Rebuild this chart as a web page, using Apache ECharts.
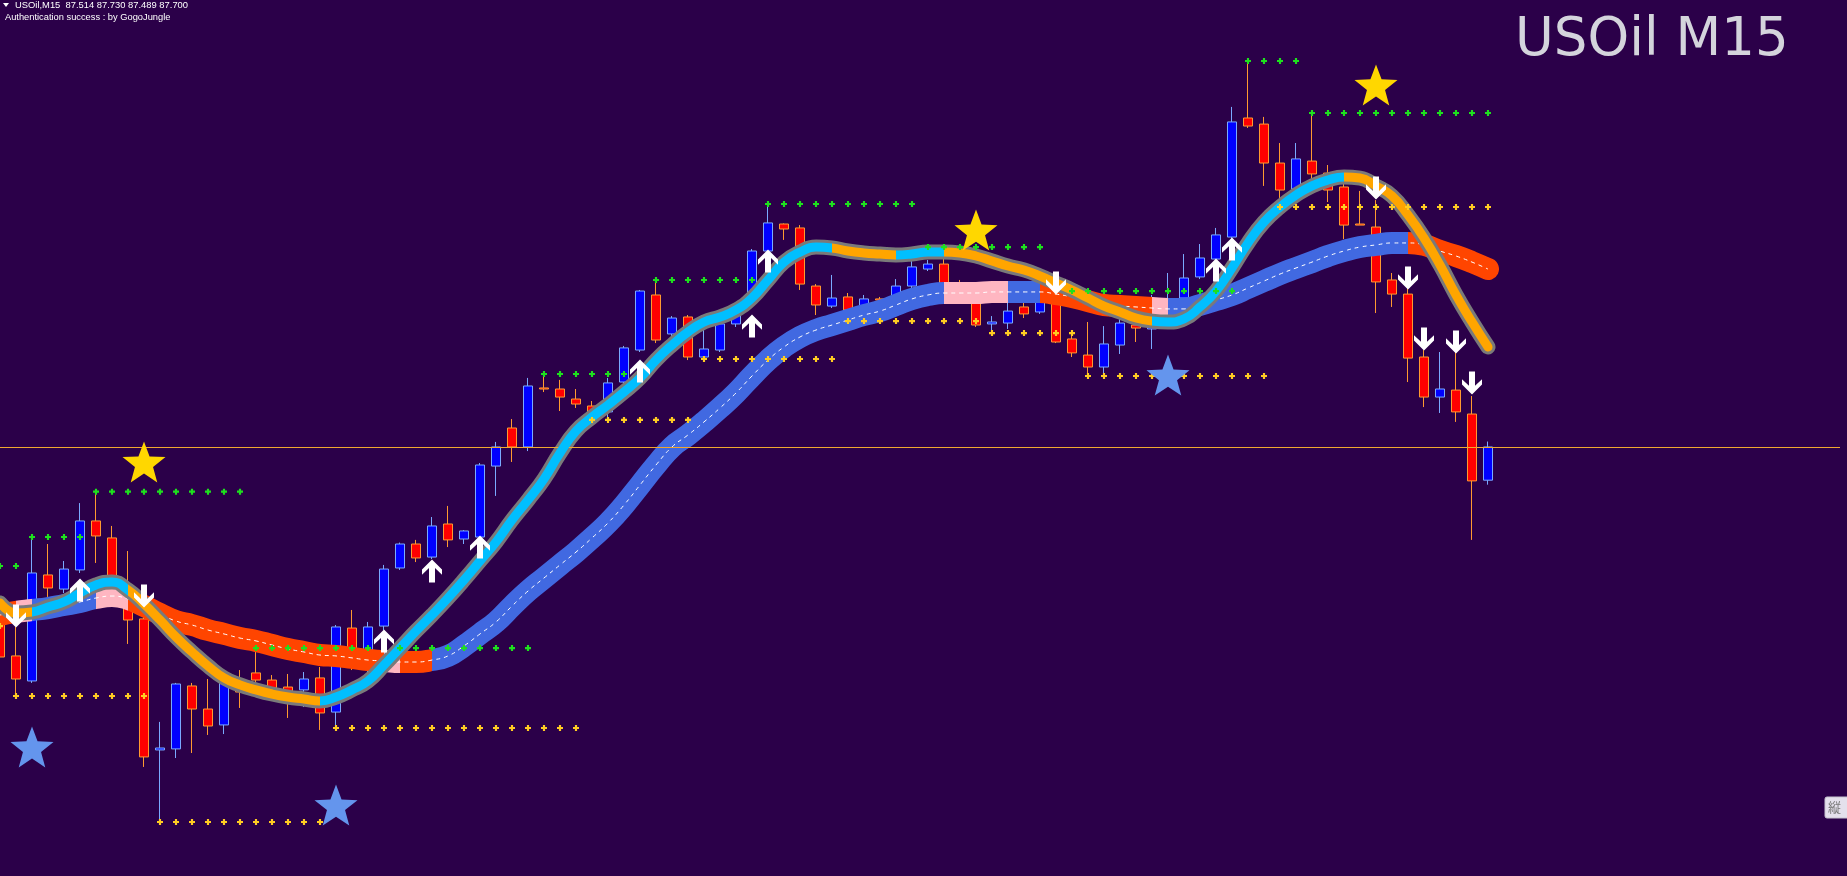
<!DOCTYPE html>
<html>
<head>
<meta charset="utf-8">
<script src="https://cdn.jsdelivr.net/npm/echarts@6/dist/echarts.min.js"></script>
<style>
html,body{margin:0;padding:0;background:#2b0049;overflow:hidden;}
#chart{width:1847px;height:876px;}
</style>
</head>
<body>
<div id="chart"></div>
<script>
// ---- data (prices) ----
const symbolName = 'USOil';
const timeframe = 'M15';
const authText = 'Authentication success : by GogoJungle';

// candles: [open, close, low, high]
const ohlc = [
[86.760,86.525,86.424,86.816],[86.531,86.402,86.301,86.693],[86.391,86.995,86.380,87.196],[86.984,86.911,86.861,87.157],
[86.905,87.017,86.883,87.062],[87.012,87.286,86.995,87.386],[87.286,87.202,87.051,87.450],[87.191,86.973,86.900,87.258],
[86.844,86.732,86.598,87.118],[86.738,85.966,85.910,86.805],[86.005,86.016,85.602,86.162],[86.011,86.374,85.960,86.380],
[86.363,86.234,85.988,86.380],[86.234,86.139,86.089,86.402],[86.145,86.408,86.094,86.441],[86.385,86.329,86.240,86.452],
[86.436,86.396,86.369,86.573],[86.396,86.341,86.285,86.424],[86.357,86.285,86.184,86.430],[86.341,86.402,86.245,86.441],
[86.408,86.212,86.117,86.469],[86.217,86.693,86.128,86.704],[86.687,86.564,86.452,86.788],[86.564,86.693,86.413,86.721],
[86.698,87.017,86.676,87.040],[87.023,87.157,87.012,87.165],[87.157,87.079,87.056,87.180],[87.084,87.258,87.073,87.308],
[87.269,87.180,87.140,87.370],[87.185,87.230,87.157,87.235],[87.196,87.599,87.191,87.610],[87.593,87.700,87.426,87.728],
[87.806,87.700,87.616,87.856],[87.700,88.041,87.677,88.086],[88.030,88.024,88.007,88.105],[88.024,87.979,87.901,88.075],
[87.968,87.940,87.918,88.024],[87.929,87.890,87.851,87.957],[87.896,88.058,87.851,88.086],[88.063,88.254,88.052,88.265],
[88.242,88.572,88.231,88.578],[88.550,88.298,88.281,88.634],[88.332,88.421,88.321,88.432],[88.427,88.203,88.186,88.438],
[88.203,88.248,88.186,88.360],[88.242,88.388,88.231,88.421],[88.388,88.444,88.371,88.505],[88.522,88.796,88.494,88.807],
[88.796,88.953,88.785,89.059],[88.947,88.919,88.858,88.950],[88.925,88.611,88.578,88.941],[88.600,88.494,88.438,88.611],
[88.488,88.533,88.477,88.662],[88.539,88.466,88.432,88.561],[88.460,88.528,88.449,88.550],[88.528,88.522,88.494,88.539],
[88.511,88.600,88.500,88.639],[88.600,88.707,88.578,88.746],[88.695,88.723,88.684,88.746],[88.723,88.606,88.595,88.818],
[88.606,88.522,88.505,88.634],[88.505,88.382,88.371,88.533],[88.388,88.399,88.337,88.432],[88.393,88.460,88.360,88.522],
[88.483,88.444,88.421,88.528],[88.455,88.533,88.444,88.561],[88.522,88.287,88.281,88.572],[88.304,88.226,88.203,88.337],
[88.214,88.147,88.091,88.399],[88.147,88.276,88.097,88.376],[88.270,88.393,88.220,88.421],[88.382,88.365,88.287,88.438],
[88.360,88.494,88.248,88.550],[88.455,88.528,88.438,88.673],[88.533,88.645,88.522,88.779],[88.651,88.757,88.639,88.835],
[88.751,88.886,88.740,88.925],[88.874,89.518,88.863,89.602],[89.540,89.495,89.484,89.859],[89.506,89.288,89.160,89.546],
[89.288,89.137,89.042,89.400],[89.143,89.311,89.137,89.400],[89.299,89.227,89.193,89.568],[89.232,89.137,89.070,89.277],
[89.154,88.941,88.863,89.176],[88.947,88.941,88.941,89.132],[88.930,88.623,88.449,89.081],[88.634,88.555,88.483,88.673],
[88.555,88.197,88.063,88.589],[88.203,87.979,87.923,88.242],[87.979,88.024,87.890,88.231],[88.018,87.896,87.840,88.231],
[87.884,87.510,87.180,87.985],[87.514,87.700,87.489,87.730]
];

const fastLine = [
86.827,86.771,86.777,86.805,86.833,86.883,86.928,86.945,86.900,86.822,
86.732,86.637,86.553,86.475,86.408,86.369,86.341,86.318,86.301,86.290,
86.279,86.301,86.341,86.391,86.480,86.575,86.670,86.760,86.855,86.956,
87.062,87.168,87.291,87.403,87.521,87.666,87.789,87.867,87.935,88.007,
88.086,88.186,88.270,88.343,88.399,88.427,88.466,88.533,88.634,88.734,
88.790,88.818,88.813,88.796,88.785,88.779,88.774,88.779,88.790,88.790,
88.785,88.768,88.740,88.712,88.690,88.656,88.617,88.578,88.533,88.488,
88.455,88.421,88.404,88.399,88.416,88.483,88.572,88.701,88.841,88.958,
89.042,89.109,89.160,89.193,89.210,89.204,89.160,89.104,88.997,88.869,
88.718,88.550,88.399,88.259
];

const slowLine = [
86.760,86.777,86.788,86.799,86.816,86.833,86.855,86.866,86.850,86.810,
86.766,86.726,86.704,86.676,86.654,86.631,86.615,86.592,86.570,86.553,
86.536,86.531,86.520,86.508,86.503,86.497,86.497,86.508,86.531,86.587,
86.654,86.721,86.810,86.894,86.967,87.040,87.112,87.191,87.275,87.375,
87.487,87.599,87.700,87.767,87.840,87.918,88.002,88.097,88.186,88.259,
88.315,88.354,88.382,88.410,88.438,88.460,88.494,88.528,88.550,88.561,
88.561,88.561,88.567,88.567,88.567,88.567,88.555,88.539,88.516,88.494,
88.488,88.483,88.477,88.472,88.472,88.494,88.522,88.550,88.589,88.628,
88.667,88.701,88.734,88.768,88.796,88.818,88.830,88.841,88.841,88.830,
88.796,88.768,88.734,88.695
];

// [firstBar, lastBar, price]
const resistanceLevels = [
[0,1,87.034],[2,5,87.196],[6,15,87.450],[16,33,86.575],[34,39,88.108],[41,47,88.634],
[48,57,89.059],[58,65,88.818],[67,77,88.572],[78,81,89.859],[82,93,89.568]
];
const supportLevels = [
[0,0,86.698],[1,9,86.307],[10,20,85.602],[21,36,86.128],[37,43,87.851],[44,52,88.192],
[53,61,88.404],[62,67,88.337],[68,79,88.097],[80,93,89.042]
];

// [bar, price]
const upArrows = [[5,86.900],[24,86.615],[27,87.006],[30,87.140],[40,88.125],[47,88.376],[48,88.740],[76,88.690],[77,88.807]];
const downArrows = [[1,86.754],[9,86.866],[66,88.617],[86,89.148],[88,88.645],[89,88.304],[91,88.287],[92,88.058]];
const goldStars = [[9,87.616],[61,88.913],[86,89.725]];
const blueStars = [[2,86.022],[21,85.697],[73,88.102]];

const totalSlots = 116;
const categories = Array.from({length: totalSlots}, (_, i) => String(i));

// ---- build ----
function levelPoints(levels){
  const pts = [];
  levels.forEach(([a,b,p]) => { for(let i=a;i<=b;i++) pts.push([i,p]); });
  return pts;
}
const last = ohlc[ohlc.length-1];
const lastClose = last[1];
const fmt = v => v.toFixed(3);
const headerLine = `${symbolName},${timeframe}  ${fmt(last[0])} ${fmt(last[3])} ${fmt(last[2])} ${fmt(last[1])}`;

const ORANGE='#ffa500', CYAN='#00bfff', RED='#ff4500', BLUE='#4169e1', PINK='#ffb6c1';
const plusPath = 'path://M1.6,0 H3.4 V1.6 H5 V3.4 H3.4 V5 H1.6 V3.4 H0 V1.6 H1.6 Z';
const upPath = 'path://M50,0 L100,50 L100,76 L65,43 L65,115 L35,115 L35,43 L0,76 L0,50 Z';
const downPath = 'path://M50,115 L100,65 L100,39 L65,72 L65,0 L35,0 L35,72 L0,39 L0,65 Z';
const starPath = 'path://M50,2 L62.3,35 L97.6,36.5 L70,58.5 L79.4,92.5 L50,73 L20.6,92.5 L30,58.5 L2.4,36.5 L37.7,35 Z';

const chart = echarts.init(document.getElementById('chart'), null, {renderer:'canvas'});
chart.setOption({
  backgroundColor: '#2b0049',
  animation: false,
  grid: {left: 0, right: 7, top: 0, bottom: 0},
  xAxis: {type:'category', data: categories, boundaryGap: false, show: false},
  yAxis: {type:'value', min: 85.30, max: 90.20, show: false, splitLine:{show:false}},
  visualMap: [
    {type:'piecewise', show:false, seriesIndex: 1, dimension: 0, pieces: [
      {lt:1.05, color:RED},{gte:1.05, lt:1.7, color:PINK},{gte:1.7, lt:6.4, color:BLUE},
      {gte:6.4, lt:8.3, color:PINK},{gte:8.3, lt:20.6, color:RED},{gte:20.6, lt:21.4, color:PINK},
      {gte:21.4, lt:23.6, color:RED},{gte:23.6, lt:24.9, color:PINK},{gte:24.9, lt:26.6, color:RED},
      {gte:26.6, lt:59.2, color:BLUE},{gte:59.2, lt:62.5, color:PINK},{gte:62.5, lt:65.4, color:BLUE},
      {gte:65.4, lt:72.3, color:RED},{gte:72.3, lt:72.7, color:PINK},{gte:72.7, lt:88.3, color:BLUE},
      {gte:88.3, color:RED}
    ]},
    {type:'piecewise', show:false, seriesIndex: 4, dimension: 0, pieces: [
      {lt:2.06, color:ORANGE},{gte:2.06, lt:7.9, color:CYAN},{gte:7.9, lt:20.1, color:ORANGE},
      {gte:20.1, lt:51.9, color:CYAN},{gte:51.9, lt:56.1, color:ORANGE},{gte:56.1, lt:58.75, color:CYAN},
      {gte:58.75, lt:72.06, color:ORANGE},{gte:72.06, lt:84.2, color:CYAN},{gte:84.2, color:ORANGE}
    ]}
  ],
  graphic: [
    {type:'polygon', shape:{points:[[3,3],[9,3],[6,7]]}, style:{fill:'#ffffff'}, z:100},
    {type:'text', x:15, y:5.5, style:{text: headerLine, font:'9.4px "Liberation Sans", Arial, sans-serif', fill:'#ffffff', verticalAlign:'middle'}, z:100},
    {type:'text', x:5, y:17.5, style:{text: authText, font:'9.3px "Liberation Sans", Arial, sans-serif', fill:'#ffffff', verticalAlign:'middle'}, z:100},
    {type:'text', x:1515, y:41, style:{text: symbolName + ' ' + timeframe, font:'53px "DejaVu Sans", Verdana, sans-serif', fill:'#d4d4dc', verticalAlign:'middle'}, z:100},
    {type:'rect', shape:{x:1825, y:797, width:24, height:21, r:2}, style:{fill:'#e4e0ec', stroke:'#c8c4d0'}, z:100},
    {type:'text', x:1828, y:807.5, style:{text:'縦', font:'13px "Noto Sans CJK JP", sans-serif', fill:'#777777', verticalAlign:'middle'}, z:101}
  ],
  series: [
    { // 0 candles
      type:'candlestick', data: ohlc, barWidth: 10, z: 1,
      itemStyle:{color:'#0000ff', color0:'#ff0000', borderColor:'#7aaaff', borderColor0:'#ff9a30', borderWidth:1},
      markLine:{silent:true, symbol:'none', label:{show:false}, lineStyle:{color:'#f0a830', width:1, type:'solid'}, data:[{yAxis:lastClose}]}
    },
    { // 1 slow band
      type:'line', data: slowLine, smooth:true, showSymbol:false, z:2,
      lineStyle:{width:22, cap:'round', join:'round', opacity:1}
    },
    { // 2 slow dashed centre
      type:'line', data: slowLine, smooth:true, showSymbol:false, z:3,
      lineStyle:{width:1, color:'#ffffff', type:[4,4]}
    },
    { // 3 fast outline
      type:'line', data: fastLine, smooth:true, showSymbol:false, z:4,
      lineStyle:{width:15, color:'#7a7a7a', cap:'round', join:'round'}
    },
    { // 4 fast inner
      type:'line', data: fastLine, smooth:true, showSymbol:false, z:5,
      lineStyle:{width:9, cap:'round', join:'round'}
    },
    { // 5 resistance dots
      type:'scatter', data: levelPoints(resistanceLevels), symbol: plusPath, symbolSize:6, z:6,
      itemStyle:{color:'#1ee01e', opacity:1}
    },
    { // 6 support dots
      type:'scatter', data: levelPoints(supportLevels), symbol: plusPath, symbolSize:6, z:6,
      itemStyle:{color:'#ffcc22', opacity:1}
    },
    { // 7 up arrows
      type:'scatter', data: upArrows, symbol: upPath, symbolSize:[20,23], z:7,
      itemStyle:{color:'#ffffff', opacity:1}
    },
    { // 8 down arrows
      type:'scatter', data: downArrows, symbol: downPath, symbolSize:[20,23], z:7,
      itemStyle:{color:'#ffffff', opacity:1}
    },
    { // 9 gold stars
      type:'scatter', data: goldStars, symbol: starPath, symbolSize:[43,41], z:8,
      itemStyle:{color:'#ffd700', opacity:1}
    },
    { // 10 blue stars
      type:'scatter', data: blueStars, symbol: starPath, symbolSize:[43,41], z:8,
      itemStyle:{color:'#6495ed', opacity:1}
    }
  ]
});
</script>
</body>
</html>
